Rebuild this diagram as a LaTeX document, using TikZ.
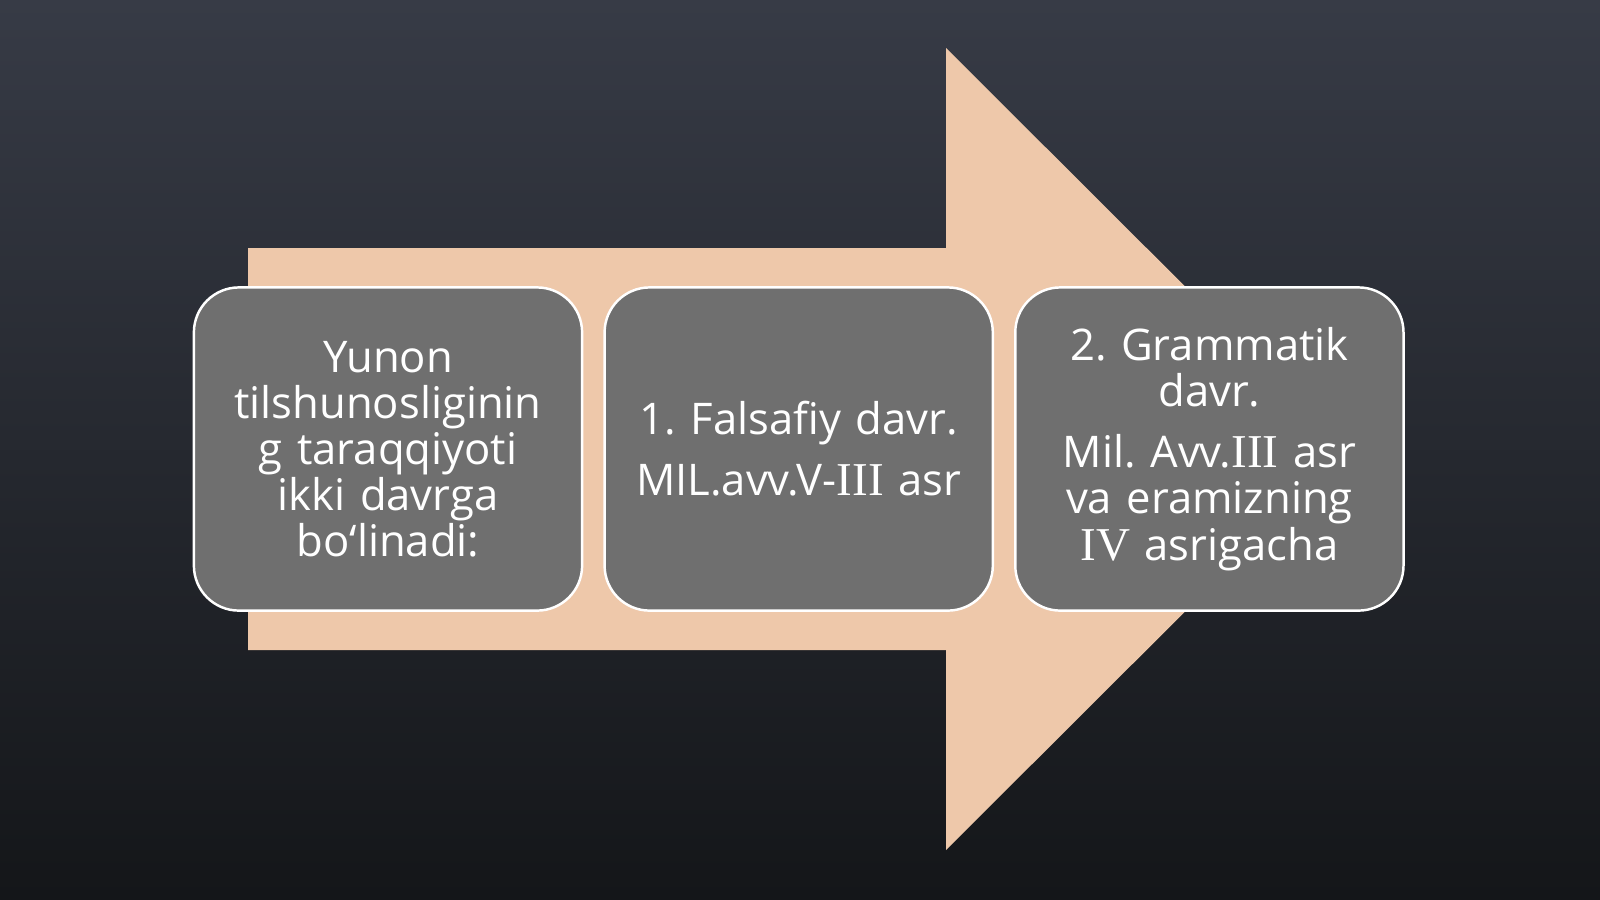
\documentclass[tikz,border=0pt]{standalone}
\usepackage{fontspec}
\setmainfont{Open Sans}
\newfontfamily\romfont{Liberation Serif}[Scale=1.08]
\usetikzlibrary{positioning}
\frenchspacing

\definecolor{bgtop}{HTML}{373B46}
\definecolor{bgbottom}{HTML}{141619}
\definecolor{peach}{HTML}{EEC8AA}
\definecolor{boxgrey}{HTML}{6F6F6F}

\begin{document}
\begin{tikzpicture}[x=0.01cm,
            y=-0.01cm,
            node distance=0.2cm,
            period/.style={rectangle,
                           rounded corners=0.45cm,
                           fill=boxgrey,
                           draw=white!92,
                           line width=0.7pt,
                           minimum width=3.88cm,
                           minimum height=3.23cm,
                           text width=3.4cm,
                           align=center,
                           text=white!96,
                           inner sep=0pt,
                           font=\fontsize{12.4}{13.1}\selectfont}]

        \useasboundingbox (0,0) rectangle (1600,899);
        \shade[top color=bgtop, bottom color=bgbottom] (0,0) rectangle (1600,899);

        \fill[peach] (248,248) -- (946,248) -- (946,48) -- (1348,449)
                     -- (946,850) -- (946,650) -- (248,650) -- cycle;

        \node[period]              (intro)                 at (388,449)
            {Yunon\\ tilshunosliginin\\ g taraqqiyoti\\ ikki davrga\\ bo‘linadi:};
        \node[period]              (falsafiy) [right=of intro]
            {1. Falsafiy davr.\\[4.3pt] MIL.avv.V-{\romfont III} asr};
        \node[period]              (grammatik) [right=of falsafiy]
            {2. Grammatik\\ davr.\\[4.3pt] Mil. Avv.{\romfont III} asr\\ va eramizning\\ {\romfont IV} asrigacha};

    \end{tikzpicture}
\end{document}
